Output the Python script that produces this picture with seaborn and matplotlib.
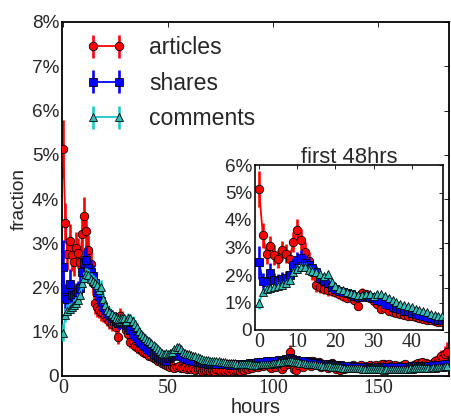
import numpy as np
import matplotlib
matplotlib.use("Agg")
import matplotlib.pyplot as plt
import seaborn as sns

# ---------------- data (fraction in %, one value per hour) ----------------
hours = list(range(184))

articles = [
    5.13, 3.45, 2.75, 3.05, 2.73, 2.58, 2.90, 2.78, 2.58, 3.20, 3.62, 3.28,
    2.85, 2.52, 2.10, 1.65, 1.55, 1.50, 1.45, 1.42, 1.38, 1.30, 1.25, 1.18,
    1.20, 1.10, 0.88, 1.35, 1.30, 1.18, 1.05, 0.95, 0.76, 0.80, 0.68, 0.65,
    0.62, 0.60, 0.55, 0.52, 0.50, 0.46, 0.45, 0.40, 0.38, 0.35, 0.33, 0.30,
    0.28, 0.25, 0.22, 0.20, 0.22, 0.18, 0.20, 0.22, 0.17, 0.18, 0.20, 0.16,
    0.17, 0.15, 0.18, 0.14, 0.16, 0.15, 0.12, 0.14, 0.13, 0.15, 0.12, 0.14,
    0.12, 0.15, 0.13, 0.11, 0.14, 0.12, 0.13, 0.11, 0.15, 0.12, 0.13, 0.14,
    0.12, 0.16, 0.14, 0.18, 0.15, 0.20, 0.18, 0.22, 0.25, 0.20, 0.28, 0.22,
    0.30, 0.25, 0.22, 0.18, 0.26, 0.20, 0.30, 0.24, 0.15, 0.22, 0.32, 0.28,
    0.54, 0.30, 0.16, 0.14, 0.25, 0.30, 0.20, 0.28, 0.32, 0.30, 0.22, 0.33,
    0.30, 0.25, 0.32, 0.20, 0.28, 0.22, 0.18, 0.25, 0.30, 0.20, 0.16, 0.22,
    0.14, 0.20, 0.15, 0.18, 0.22, 0.20, 0.24, 0.20, 0.18, 0.22, 0.25, 0.20,
    0.22, 0.18, 0.25, 0.20, 0.22, 0.24, 0.18, 0.20, 0.26, 0.28, 0.25, 0.27,
    0.22, 0.20, 0.24, 0.18, 0.22, 0.20, 0.25, 0.27, 0.20, 0.22, 0.18, 0.24,
    0.26, 0.30, 0.28, 0.32, 0.25, 0.30, 0.28, 0.22, 0.30, 0.35, 0.30, 0.38,
    0.45, 0.40, 0.50, 0.55,
]
articles_err = [
    0.65, 0.45, 0.35, 0.38, 0.35, 0.33, 0.35, 0.34, 0.32, 0.38, 0.42, 0.38,
    0.34, 0.30, 0.28, 0.25, 0.22, 0.20, 0.20, 0.20, 0.18, 0.18, 0.18, 0.17,
    0.17, 0.16, 0.15, 0.18, 0.17, 0.16, 0.15, 0.14, 0.13, 0.13, 0.12, 0.12,
    0.12, 0.11, 0.11, 0.10, 0.10, 0.10, 0.10, 0.09, 0.09, 0.09, 0.08, 0.08,
    0.08, 0.08, 0.07, 0.07, 0.07, 0.07, 0.07, 0.07, 0.07, 0.07, 0.07, 0.06,
    0.06, 0.06, 0.06, 0.06, 0.06, 0.06, 0.06, 0.06, 0.06, 0.06, 0.06, 0.06,
    0.06, 0.06, 0.06, 0.06, 0.06, 0.06, 0.06, 0.06, 0.06, 0.06, 0.06, 0.06,
    0.06, 0.06, 0.06, 0.07, 0.06, 0.07, 0.07, 0.08, 0.08, 0.07, 0.08, 0.07,
    0.08, 0.08, 0.07, 0.07, 0.08, 0.07, 0.08, 0.08, 0.07, 0.07, 0.09, 0.08,
    0.15, 0.08, 0.07, 0.07, 0.08, 0.08, 0.07, 0.08, 0.09, 0.08, 0.07, 0.09,
    0.08, 0.08, 0.09, 0.07, 0.08, 0.07, 0.07, 0.08, 0.08, 0.07, 0.07, 0.07,
    0.07, 0.07, 0.07, 0.07, 0.07, 0.07, 0.08, 0.07, 0.07, 0.07, 0.08, 0.07,
    0.07, 0.07, 0.08, 0.07, 0.07, 0.08, 0.07, 0.07, 0.08, 0.08, 0.08, 0.08,
    0.07, 0.07, 0.08, 0.07, 0.07, 0.07, 0.08, 0.08, 0.07, 0.07, 0.07, 0.08,
    0.08, 0.09, 0.08, 0.09, 0.08, 0.09, 0.08, 0.08, 0.09, 0.10, 0.09, 0.11,
    0.14, 0.12, 0.18, 0.22,
]

shares = [
    2.47, 1.78, 1.75, 2.07, 1.82, 1.80, 1.85, 1.90, 2.00, 2.35, 2.55, 2.62,
    2.45, 2.35, 2.25, 2.10, 1.90, 1.80, 1.70, 1.55, 1.50, 1.42, 1.38, 1.35,
    1.30, 1.25, 1.20, 1.20, 1.22, 1.20, 1.15, 1.10, 1.05, 0.95, 0.90, 0.85,
    0.80, 0.75, 0.70, 0.68, 0.62, 0.58, 0.55, 0.50, 0.47, 0.43, 0.40, 0.38,
    0.36, 0.35, 0.40, 0.42, 0.45, 0.48, 0.50, 0.48, 0.45, 0.42, 0.40, 0.38,
    0.37, 0.36, 0.35, 0.33, 0.32, 0.31, 0.30, 0.30, 0.29, 0.28, 0.28, 0.27,
    0.27, 0.27, 0.26, 0.26, 0.27, 0.26, 0.26, 0.25, 0.26, 0.25, 0.25, 0.26,
    0.26, 0.27, 0.27, 0.28, 0.28, 0.29, 0.29, 0.30, 0.30, 0.31, 0.31, 0.32,
    0.32, 0.33, 0.33, 0.34, 0.34, 0.35, 0.35, 0.36, 0.36, 0.37, 0.38, 0.38,
    0.40, 0.38, 0.37, 0.36, 0.35, 0.35, 0.34, 0.33, 0.33, 0.32, 0.31, 0.30,
    0.30, 0.29, 0.28, 0.28, 0.27, 0.27, 0.26, 0.26, 0.25, 0.25, 0.24, 0.24,
    0.24, 0.23, 0.23, 0.22, 0.22, 0.22, 0.21, 0.21, 0.21, 0.20, 0.20, 0.20,
    0.20, 0.20, 0.19, 0.19, 0.19, 0.19, 0.20, 0.19, 0.20, 0.20, 0.20, 0.21,
    0.20, 0.20, 0.21, 0.20, 0.21, 0.21, 0.20, 0.21, 0.21, 0.21, 0.22, 0.21,
    0.22, 0.22, 0.22, 0.23, 0.22, 0.23, 0.23, 0.23, 0.24, 0.23, 0.24, 0.24,
    0.25, 0.24, 0.26, 0.27,
]
shares_err = [
    0.60, 0.30, 0.28, 0.35, 0.25, 0.25, 0.25, 0.25, 0.25, 0.28, 0.30, 0.30,
    0.28, 0.27, 0.25, 0.22, 0.20, 0.20, 0.18, 0.17, 0.16, 0.15, 0.15, 0.14,
    0.14, 0.13, 0.13, 0.13, 0.13, 0.13, 0.12, 0.12, 0.12, 0.11, 0.11, 0.10,
    0.10, 0.10, 0.09, 0.09, 0.09, 0.08, 0.08, 0.08, 0.07, 0.07, 0.07, 0.07,
    0.07, 0.07, 0.07, 0.07, 0.07, 0.07, 0.07, 0.07, 0.07, 0.06, 0.06, 0.06,
    0.06, 0.06, 0.06, 0.06, 0.05, 0.05, 0.05, 0.05, 0.05, 0.05, 0.05, 0.05,
    0.05, 0.05, 0.05, 0.05, 0.05, 0.05, 0.05, 0.05, 0.05, 0.05, 0.05, 0.05,
    0.05, 0.05, 0.05, 0.05, 0.05, 0.05, 0.05, 0.05, 0.05, 0.05, 0.05, 0.05,
    0.05, 0.05, 0.05, 0.05, 0.05, 0.05, 0.05, 0.05, 0.05, 0.05, 0.05, 0.05,
    0.06, 0.05, 0.05, 0.05, 0.05, 0.05, 0.05, 0.05, 0.05, 0.05, 0.05, 0.05,
    0.05, 0.05, 0.05, 0.05, 0.05, 0.05, 0.05, 0.05, 0.05, 0.05, 0.05, 0.05,
    0.05, 0.05, 0.05, 0.05, 0.05, 0.05, 0.05, 0.05, 0.05, 0.05, 0.05, 0.05,
    0.05, 0.05, 0.05, 0.05, 0.05, 0.05, 0.05, 0.05, 0.05, 0.05, 0.05, 0.05,
    0.05, 0.05, 0.05, 0.05, 0.05, 0.05, 0.05, 0.05, 0.05, 0.05, 0.05, 0.05,
    0.05, 0.05, 0.05, 0.05, 0.05, 0.05, 0.05, 0.05, 0.05, 0.05, 0.05, 0.05,
    0.05, 0.05, 0.05, 0.05,
]

comments = [
    0.98, 1.38, 1.48, 1.52, 1.55, 1.60, 1.65, 1.72, 1.82, 2.10, 2.22, 2.30,
    2.28, 2.20, 2.15, 2.10, 2.05, 1.95, 2.02, 1.75, 1.60, 1.50, 1.45, 1.40,
    1.35, 1.30, 1.28, 1.28, 1.30, 1.30, 1.25, 1.30, 1.30, 1.25, 1.18, 1.10,
    1.02, 0.95, 0.90, 0.86, 0.82, 0.78, 0.74, 0.70, 0.66, 0.60, 0.56, 0.52,
    0.50, 0.52, 0.50, 0.53, 0.55, 0.60, 0.66, 0.65, 0.60, 0.55, 0.52, 0.50,
    0.50, 0.48, 0.46, 0.45, 0.42, 0.40, 0.38, 0.37, 0.36, 0.36, 0.35, 0.34,
    0.34, 0.33, 0.33, 0.32, 0.32, 0.31, 0.30, 0.30, 0.30, 0.29, 0.29, 0.28,
    0.28, 0.28, 0.27, 0.27, 0.26, 0.26, 0.25, 0.25, 0.25, 0.25, 0.26, 0.26,
    0.27, 0.27, 0.28, 0.28, 0.29, 0.30, 0.30, 0.31, 0.31, 0.32, 0.32, 0.33,
    0.33, 0.33, 0.32, 0.32, 0.31, 0.30, 0.30, 0.29, 0.28, 0.28, 0.27, 0.26,
    0.26, 0.25, 0.24, 0.24, 0.23, 0.23, 0.22, 0.22, 0.21, 0.21, 0.20, 0.20,
    0.20, 0.19, 0.19, 0.19, 0.18, 0.18, 0.18, 0.17, 0.17, 0.17, 0.17, 0.16,
    0.16, 0.16, 0.16, 0.15, 0.15, 0.15, 0.15, 0.15, 0.15, 0.14, 0.15, 0.15,
    0.15, 0.15, 0.16, 0.15, 0.16, 0.16, 0.15, 0.16, 0.16, 0.17, 0.16, 0.17,
    0.17, 0.18, 0.17, 0.18, 0.18, 0.19, 0.18, 0.19, 0.20, 0.19, 0.20, 0.20,
    0.21, 0.20, 0.22, 0.23,
]
comments_err = [
    0.20, 0.15, 0.14, 0.13, 0.13, 0.13, 0.13, 0.13, 0.13, 0.14, 0.14, 0.14,
    0.14, 0.13, 0.13, 0.13, 0.13, 0.12, 0.14, 0.12, 0.11, 0.10, 0.10, 0.10,
    0.10, 0.10, 0.10, 0.10, 0.10, 0.10, 0.10, 0.12, 0.10, 0.10, 0.09, 0.09,
    0.08, 0.08, 0.08, 0.08, 0.07, 0.07, 0.07, 0.06, 0.06, 0.06, 0.06, 0.06,
    0.05, 0.05, 0.05, 0.05, 0.05, 0.06, 0.06, 0.06, 0.05, 0.05, 0.05, 0.05,
    0.05, 0.05, 0.04, 0.04, 0.04, 0.04, 0.04, 0.04, 0.04, 0.04, 0.04, 0.04,
    0.04, 0.04, 0.04, 0.04, 0.04, 0.04, 0.04, 0.04, 0.04, 0.04, 0.04, 0.04,
    0.04, 0.04, 0.04, 0.04, 0.04, 0.04, 0.04, 0.04, 0.04, 0.04, 0.04, 0.04,
    0.04, 0.04, 0.04, 0.04, 0.04, 0.04, 0.04, 0.04, 0.04, 0.04, 0.04, 0.04,
    0.04, 0.04, 0.04, 0.04, 0.04, 0.04, 0.04, 0.04, 0.04, 0.04, 0.04, 0.04,
    0.04, 0.04, 0.04, 0.04, 0.04, 0.04, 0.04, 0.04, 0.04, 0.04, 0.04, 0.04,
    0.04, 0.04, 0.04, 0.04, 0.04, 0.04, 0.04, 0.04, 0.04, 0.04, 0.04, 0.04,
    0.04, 0.04, 0.04, 0.04, 0.04, 0.04, 0.04, 0.04, 0.04, 0.04, 0.04, 0.04,
    0.04, 0.04, 0.04, 0.04, 0.04, 0.04, 0.04, 0.04, 0.04, 0.04, 0.04, 0.04,
    0.04, 0.04, 0.04, 0.04, 0.04, 0.04, 0.04, 0.04, 0.04, 0.04, 0.04, 0.04,
    0.04, 0.04, 0.04, 0.04,
]

main_yticks = [0, 1, 2, 3, 4, 5, 6, 7, 8]
main_yticklabels = ["0", "1%", "2%", "3%", "4%", "5%", "6%", "7%", "8%"]
main_xticks = [0, 50, 100, 150]
inset_yticks = [0, 1, 2, 3, 4, 5, 6]
inset_yticklabels = ["0", "1%", "2%", "3%", "4%", "5%", "6%"]
inset_xticks = [0, 10, 20, 30, 40]
labels = ["articles", "shares", "comments"]

# ---------------- style ----------------
sns.set_style("white")
SANS = ["Liberation Sans", "DejaVu Sans"]
SERIF = ["Liberation Serif", "DejaVu Serif"]
plt.rcParams["font.family"] = SANS
plt.rcParams["axes.linewidth"] = 1.8
plt.rcParams["axes.edgecolor"] = "black"

RED = "#ff0000"
BLUE = "#0000ff"
CYAN_LINE = "#1cc8c8"
CYAN_FACE = "#33bbb4"

series = [
    dict(y=articles, e=articles_err, line=RED, face=RED, marker="o", ms=8.5, lab=labels[0]),
    dict(y=shares, e=shares_err, line=BLUE, face=BLUE, marker="s", ms=7.5, lab=labels[1]),
    dict(y=comments, e=comments_err, line=CYAN_LINE, face=CYAN_FACE, marker="^", ms=8.5, lab=labels[2]),
]

fig = plt.figure(figsize=(451 / 72, 416 / 72), dpi=72)
ax = fig.add_axes([62 / 451, 1 - 376 / 416, (449 - 62) / 451, (376 - 22) / 416])
axin = fig.add_axes([255 / 451, 1 - 330 / 416, (443 - 255) / 451, (330 - 165) / 416])


def draw(a, xmax_hour):
    x = np.array(hours, dtype=float)
    for i, s in enumerate(series):
        y = np.array(s["y"])
        e = np.array(s["e"])
        m = x <= xmax_hour
        z = 2 + i * 3
        a.errorbar(x[m], y[m], yerr=e[m], fmt="none", ecolor=s["line"],
                   elinewidth=2.6, capsize=0, zorder=z)
        sns.lineplot(x=x[m], y=y[m], ax=a, color=s["line"], linewidth=1.8,
                     marker=s["marker"], markersize=s["ms"],
                     markerfacecolor=s["face"], markeredgecolor="black",
                     markeredgewidth=0.8, zorder=z + 1, legend=False,
                     estimator=None, sort=False)


draw(ax, 184)
draw(axin, 49)

# main axes formatting
ax.set_xlim(-0.6, 183.8)
ax.set_ylim(0, 8)
ax.set_yticks(main_yticks)
ax.set_yticklabels(main_yticklabels, fontsize=19, family=SANS)
ax.set_xticks(main_xticks)
ax.set_xticklabels([str(t) for t in main_xticks], fontsize=20, family=SERIF)
ax.tick_params(direction="in", length=5, width=1, top=True, right=True, pad=3)
ax.set_xlabel("hours", fontsize=20, labelpad=0)
ax.set_ylabel("fraction", fontsize=19, labelpad=4)
for sp in ax.spines.values():
    sp.set_visible(True)
    sp.set_linewidth(1.8)

# legend with errorbar-style handles
handles = []
for s in series:
    h = ax.errorbar([np.nan], [np.nan], yerr=[1.0], fmt="-" + s["marker"],
                    color=s["line"], ecolor=s["line"], elinewidth=2.6,
                    linewidth=1.8, markersize=s["ms"], markerfacecolor=s["face"],
                    markeredgecolor="black", markeredgewidth=0.8, label=s["lab"])
    handles.append(h)
ax.legend(handles=handles, labels=labels, loc="upper left",
          bbox_to_anchor=(0.062, 0.96), frameon=False, fontsize=23,
          numpoints=2, handlelength=1.75, handletextpad=1.0,
          labelspacing=0.55, borderpad=0, borderaxespad=0)

# inset formatting
axin.set_xlim(-1.05, 48.2)
axin.set_ylim(0, 6)
axin.set_yticks(inset_yticks)
axin.set_yticklabels(inset_yticklabels, fontsize=19, family=SANS)
axin.set_xticks(inset_xticks)
axin.set_xticklabels([str(t) for t in inset_xticks], fontsize=20, family=SERIF)
axin.tick_params(direction="in", length=4, width=1, top=True, right=True, pad=3)
axin.set_title("first 48hrs", fontsize=22, pad=2)
axin.set_xlabel("")
axin.set_ylabel("")
axin.set_facecolor("white")
for sp in axin.spines.values():
    sp.set_visible(True)
    sp.set_linewidth(1.6)

fig.savefig("out.png", dpi=72)
